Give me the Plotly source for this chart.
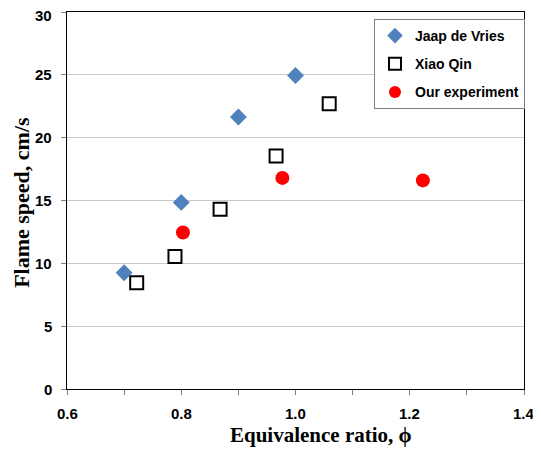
import plotly.graph_objects as go

jaap_x = [0.70, 0.80, 0.90, 1.00]
jaap_y = [9.25, 14.85, 21.65, 24.95]

qin_x = [0.722, 0.789, 0.868, 0.966, 1.059]
qin_y = [8.45, 10.55, 14.3, 18.55, 22.7]

our_x = [0.803, 0.977, 1.223]
our_y = [12.45, 16.8, 16.6]

x_ticks = [0.6, 0.8, 1.0, 1.2, 1.4]
x_ticklabels = ["0.6", "0.8", "1.0", "1.2", "1.4"]
y_ticks = [0, 5, 10, 15, 20, 25, 30]
y_ticklabels = ["0", "5", "10", "15", "20", "25", "30"]

x_title = "Equivalence ratio, \u03d5"
y_title = "Flame speed, cm/s"

# the page body has an 8px margin, so the figure is shifted by 8px
OFF = 8
W, H = 541 - OFF, 460 - OFF
PL, PR, PT, PB = 67, 524, 12, 389.3  # plot area in window pixels
ml, mt = PL - OFF, PT - OFF
mr, mb = 541 - PR, 460 - PB
pw, ph = PR - PL, PB - PT

fig = go.Figure()
fig.add_trace(go.Scatter(x=jaap_x, y=jaap_y, mode="markers", name="<b>Jaap de Vries</b>",
                         legendgroup="a",
                         marker=dict(symbol="diamond", size=13, color="#4F81BD")))
fig.add_trace(go.Scatter(x=qin_x, y=qin_y, mode="markers", name="<b>Xiao Qin</b>",
                         legendgroup="b",
                         marker=dict(symbol="square", size=13, color="white",
                                     line=dict(color="black", width=2))))
fig.add_trace(go.Scatter(x=our_x, y=our_y, mode="markers", name="<b>Our experiment</b>",
                         legendgroup="c",
                         marker=dict(symbol="circle", size=14, color="#FF0000")))

tickfont = dict(family="Liberation Sans", size=15, color="black")
titlefont_x = dict(family="Liberation Serif", size=21, color="black")
titlefont_y = dict(family="Liberation Serif", size=22, color="black")

annotations = []
# bold tick labels, placed at the axes' tick values
for v, t in zip(x_ticks, x_ticklabels):
    annotations.append(dict(text="<b>%s</b>" % t, xref="x", yref="paper", x=v, y=0,
                            xanchor="center", yanchor="top", yshift=-14,
                            showarrow=False, font=tickfont))
for v, t in zip(y_ticks, y_ticklabels):
    annotations.append(dict(text="<b>%s</b>" % t, xref="paper", yref="y", x=0, y=v,
                            xanchor="right", yanchor="middle", xshift=-13,
                            yshift=-3 if v == y_ticks[-1] else 0,
                            showarrow=False, font=tickfont))
annotations.append(dict(text="<b>%s</b>" % x_title, xref="paper", yref="paper",
                        x=(321 - PL) / pw, y=-(435 - PB) / ph,
                        xanchor="center", yanchor="middle", showarrow=False,
                        font=titlefont_x))
annotations.append(dict(text="<b>%s</b>" % y_title, xref="paper", yref="paper",
                        x=-(PL - 22) / pw, y=(PB - 203) / ph, textangle=-90,
                        xanchor="center", yanchor="middle", showarrow=False,
                        font=titlefont_y))

fig.update_layout(
    width=W, height=H,
    margin=dict(l=ml, r=mr, t=mt, b=mb, autoexpand=False),
    paper_bgcolor="white", plot_bgcolor="white",
    showlegend=True,
    legend=dict(x=(374 - PL) / pw, y=(PB - 19) / ph, xanchor="left", yanchor="top",
                bordercolor="#808080", borderwidth=1, bgcolor="white",
                font=dict(family="Liberation Sans", size=14, color="black"),
                itemsizing="constant", tracegroupgap=7),
    xaxis=dict(range=[0.6, 1.4], tickvals=x_ticks, showticklabels=False,
               ticks="outside", ticklen=5, tickcolor="#808080",
               minor=dict(dtick=0.1, ticks="outside", ticklen=5, tickcolor="#808080"),
               showgrid=False, zeroline=False, automargin=False,
               showline=True, linecolor="black", linewidth=1, mirror=True),
    yaxis=dict(range=[0, 30], tickvals=y_ticks, showticklabels=False,
               ticks="outside", ticklen=5, tickcolor="#808080",
               showgrid=True, gridcolor="#C8C8C8", gridwidth=1, zeroline=False,
               automargin=False,
               showline=True, linecolor="black", linewidth=1, mirror=True),
    annotations=annotations,
)

fig.write_html("out.html")
